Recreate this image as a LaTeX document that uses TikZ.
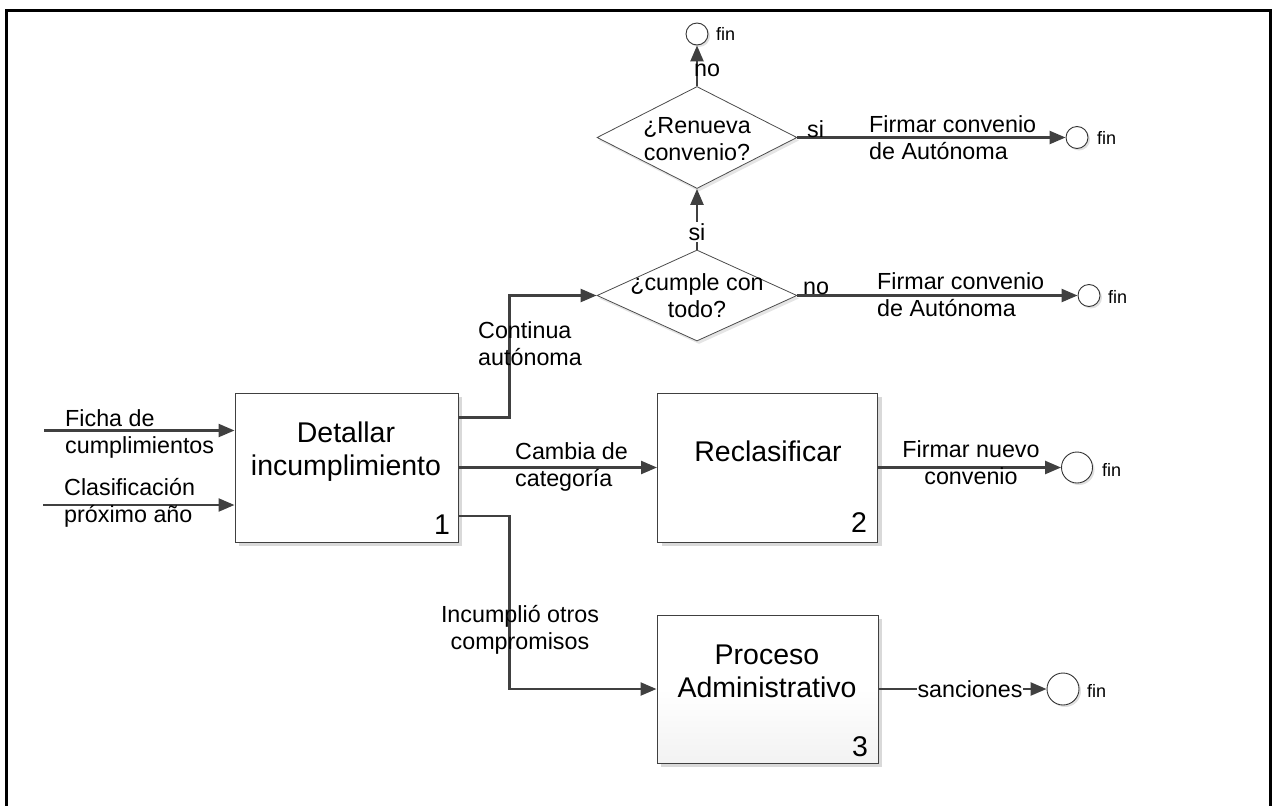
\documentclass[tikz,border=0pt]{standalone}
\usepackage{fontspec}
\setmainfont{Liberation Sans}
\usetikzlibrary{arrows.meta,shapes.geometric,shadows,calc}
\begin{document}
\begin{tikzpicture}[x=1pt,y=-1pt,
  conn/.style={draw=black!75, line width=2.4pt, -{Triangle[length=16pt,width=13pt]}},
  frameline/.style={draw=black, line width=3pt},
  procbox/.style={draw=black!75, line width=1pt, fill=white, inner sep=0pt,
    drop shadow={shadow xshift=4pt, shadow yshift=-4pt, fill=black!15, opacity=1}},
  dia/.style={diamond, draw=black!70, line width=0.8pt, fill=white, inner sep=0pt,
    drop shadow={shadow xshift=2pt, shadow yshift=-3pt, fill=black!10, opacity=1}},
  endc/.style={circle, draw=black!80, line width=0.9pt, fill=white, inner sep=0pt,
    drop shadow={shadow xshift=2pt, shadow yshift=-2pt, fill=black!12, opacity=1}},
  btxt/.style={font=\fontsize{28.5}{33}\selectfont, align=center, inner sep=0pt},
  ltxt/.style={font=\fontsize{23.3}{27}\selectfont, align=center, inner sep=0pt},
  fintxt/.style={font=\fontsize{18}{20}\selectfont, inner sep=0pt, anchor=west},
]
\useasboundingbox (0,0) rectangle (1272,806);
% frame
\draw[frameline] (6,806) -- (6,10) -- (1270,10) -- (1270,806);

% process boxes
\node[procbox, minimum width=223pt, minimum height=149pt] (b1) at (346.5,467.5) {};
\node[procbox, minimum width=220pt, minimum height=149pt] (b2) at (767.5,467.5) {};
\node[procbox, minimum width=221pt, minimum height=148pt, top color=white, bottom color=black!5, middle color=white] (b3) at (767.5,689) {};
\node[btxt] (t1) at (346,451.5) {Detallar\\incumplimiento};
\node[btxt] (t2) at (768,451) {Reclasificar};
\node[btxt] (t3) at (767,671.5) {Proceso\\Administrativo};
\node[btxt] (n1) at (442,525) {1};
\node[btxt] (n2) at (859,523) {2};
\node[btxt] (n3) at (860,747) {3};

% decisions
\node[dia, minimum width=200pt, minimum height=102pt] (d1) at (697,137.5) {};
\node[dia, minimum width=200pt, minimum height=91pt] (d2) at (697,295.5) {};
\node[ltxt] (dt1) at (697,139) {¿Renueva\\convenio?};
\node[ltxt] (dt2) at (697,296) {¿cumple con\\todo?};

% end circles
\node[endc, minimum size=22pt] (f1) at (697,34) {};
\node[endc, minimum size=22pt] (f2) at (1077,137.5) {};
\node[endc, minimum size=22pt] (f3) at (1089,295.5) {};
\node[endc, minimum size=31pt] (f4) at (1077,467.5) {};
\node[endc, minimum size=32pt] (f5) at (1063,689) {};
\node[fintxt] (ft1) at (716,34) {fin};
\node[fintxt] (ft2) at (1097,138) {fin};
\node[fintxt] (ft3) at (1108,297) {fin};
\node[fintxt] (ft4) at (1102,470) {fin};
\node[fintxt] (ft5) at (1087,691) {fin};

% inputs
\coordinate (i1) at (44,430.5);
\coordinate (i2) at (43,505);
\draw[conn] (i1) -- (i1 -| b1.west);
\draw[conn] (i2) -- (i2 -| b1.west);
\node[ltxt, anchor=west, align=left] (l1) at (65,433.5) {Ficha de\\cumplimientos};
\node[ltxt, anchor=west, align=left] (l2) at (64,503) {Clasificación\\próximo año};

% outputs of box 1
\draw[conn] ([yshift=50pt]b1.east) -- ++(51,0) |- (d2.west);
\draw[conn] (b1.east) -- (b2.west);
\draw[conn] ([yshift=-48.5pt]b1.east) -- ++(51,0) |- (b3.west);
\node[ltxt, anchor=west, align=left] (l3) at (478,343.5) {Continua\\autónoma};
\node[ltxt, anchor=west, align=left] (l4) at (515,467) {Cambia de\\categoría};
\node[ltxt] (l5) at (520,630) {Incumplió otros\\compromisos};

% decision flows
\draw[conn] (d2.north) -- (d1.south);
\node[ltxt, fill=white, inner sep=1pt] (si1) at (697,232) {si};
\draw[conn] (d1.north) -- (f1.south);
\node[ltxt] (no1) at (707,70) {no};
\draw[conn] (d1.east) -- (f2.west);
\node[ltxt, anchor=base west] (si2) at (807,137) {si};
\node[ltxt, anchor=west, align=left] (l6) at (869,137.5) {Firmar convenio\\de Autónoma};
\draw[conn] (d2.east) -- (f3.west);
\node[ltxt, anchor=base west] (no2) at (803,294) {no};
\node[ltxt, anchor=west, align=left] (l7) at (877,295) {Firmar convenio\\de Autónoma};

% box outputs
\draw[conn] (b2.east) -- (f4.west);
\node[ltxt] (l8) at (971,463) {Firmar nuevo\\convenio};
\draw[conn] (b3.east) -- (f5.west);
\node[ltxt, fill=white, inner sep=1pt] (l9) at (970,689) {sanciones};
\end{tikzpicture}
\end{document}
